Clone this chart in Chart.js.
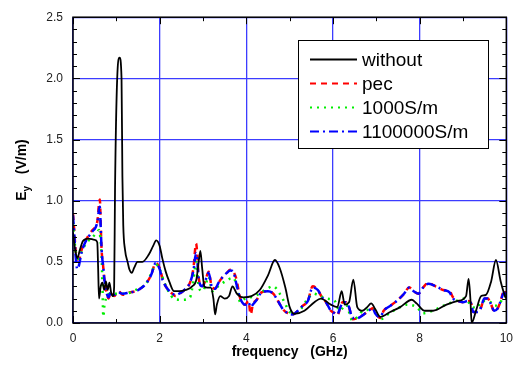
<!DOCTYPE html>
<html>
<head>
<meta charset="utf-8">
<script src="https://cdn.jsdelivr.net/npm/chart.js@4.4.0/dist/chart.umd.min.js"></script>
<style>
html,body{margin:0;padding:0;background:#fff;}
</style>
</head>
<body>
<canvas id="c" width="521" height="371"></canvas>
<script>
// values (frequency in GHz, Ey in V/m)
const legendNames = ['without', 'pec', '1000S/m', '1100000S/m'];
const xTicks = [0, 2, 4, 6, 8, 10];
const yTicks = [0.0, 0.5, 1.0, 1.5, 2.0, 2.5];

const fWithout = [0, 0.05, 0.1, 0.16, 0.23, 0.35, 0.5, 0.56, 0.58, 0.6, 0.64, 0.68, 0.72, 0.76, 0.8, 0.84, 0.88, 0.92, 0.95, 0.97, 1.02, 1.075, 1.12, 1.14, 1.16, 1.2, 1.26, 1.3, 1.36, 1.41, 1.49, 1.6, 1.75, 1.85, 1.92, 2.0, 2.06, 2.14, 2.22, 2.33, 2.45, 2.6, 2.75, 2.85, 2.9, 2.94, 2.98, 3.03, 3.1, 3.18, 3.24, 3.28, 3.32, 3.4, 3.5, 3.6, 3.68, 3.78, 3.93, 4.12, 4.31, 4.5, 4.66, 4.77, 4.9, 5.0, 5.11, 5.34, 5.57, 5.72, 5.95, 6.1, 6.2, 6.27, 6.37, 6.47, 6.56, 6.68, 6.79, 6.88, 6.98, 7.09, 7.32, 7.55, 7.82, 7.93, 8.12, 8.31, 8.62, 8.88, 9.07, 9.13, 9.17, 9.2, 9.3, 9.42, 9.53, 9.65, 9.76, 9.87, 9.97, 10];
const eWithout = [0.74, 0.6, 0.53, 0.6, 0.67, 0.69, 0.68, 0.66, 0.45, 0.2, 0.3, 0.33, 0.27, 0.34, 0.27, 0.33, 0.25, 0.22, 0.3, 1.1, 2.0, 2.17, 2.0, 1.2, 0.8, 0.6, 0.5, 0.44, 0.41, 0.45, 0.5, 0.5, 0.56, 0.63, 0.675, 0.63, 0.53, 0.42, 0.34, 0.26, 0.26, 0.27, 0.3, 0.36, 0.5, 0.59, 0.45, 0.3, 0.29, 0.29, 0.2, 0.07, 0.15, 0.22, 0.2, 0.22, 0.3, 0.24, 0.21, 0.22, 0.27, 0.39, 0.515, 0.45, 0.29, 0.13, 0.075, 0.1, 0.17, 0.2, 0.15, 0.13, 0.26, 0.15, 0.17, 0.355, 0.13, 0.1, 0.13, 0.16, 0.11, 0.05, 0.09, 0.13, 0.19, 0.16, 0.1, 0.1, 0.15, 0.18, 0.22, 0.36, 0.2, 0.0, 0.1, 0.22, 0.23, 0.34, 0.515, 0.34, 0.22, 0.2];

const fPec = [0, 0.03, 0.06, 0.1, 0.15, 0.2, 0.27, 0.35, 0.45, 0.52, 0.57, 0.6, 0.62, 0.64, 0.66, 0.7, 0.72, 0.75, 0.78, 0.82, 0.87, 0.95, 1.05, 1.15, 1.3, 1.45, 1.55, 1.68, 1.8, 1.91, 2.0, 2.06, 2.14, 2.26, 2.37, 2.5, 2.6, 2.7, 2.78, 2.84, 2.87, 2.9, 2.98, 3.05, 3.13, 3.2, 3.28, 3.36, 3.44, 3.55, 3.63, 3.7, 3.77, 3.86, 3.97, 4.05, 4.1, 4.15, 4.24, 4.35, 4.5, 4.62, 4.73, 4.85, 4.96, 5.07, 5.19, 5.3, 5.42, 5.53, 5.65, 5.73, 5.84, 5.95, 6.04, 6.1, 6.17, 6.22, 6.3, 6.37, 6.45, 6.56, 6.71, 6.86, 6.92, 6.97, 7.02, 7.09, 7.17, 7.32, 7.47, 7.63, 7.76, 7.86, 7.97, 8.08, 8.2, 8.31, 8.43, 8.54, 8.69, 8.77, 8.88, 9.0, 9.11, 9.2, 9.23, 9.34, 9.42, 9.49, 9.57, 9.65, 9.72, 9.8, 9.87, 9.95, 10];
const ePec = [0.89, 0.75, 0.6, 0.52, 0.53, 0.6, 0.66, 0.71, 0.76, 0.79, 0.85, 0.98, 1.01, 0.8, 0.6, 0.45, 0.37, 0.3, 0.24, 0.2, 0.25, 0.22, 0.26, 0.23, 0.25, 0.26, 0.28, 0.32, 0.39, 0.49, 0.45, 0.37, 0.3, 0.25, 0.22, 0.25, 0.28, 0.33, 0.45, 0.65, 0.55, 0.37, 0.3, 0.34, 0.42, 0.3, 0.28, 0.33, 0.37, 0.41, 0.435, 0.42, 0.36, 0.2, 0.15, 0.18, 0.07, 0.15, 0.19, 0.25, 0.26, 0.24, 0.18, 0.11, 0.08, 0.07, 0.1, 0.14, 0.18, 0.3, 0.27, 0.22, 0.17, 0.1, 0.08, 0.06, 0.13, 0.17, 0.17, 0.13, 0.03, 0.04, 0.07, 0.11, 0.12, 0.08, 0.06, 0.04, 0.1, 0.14, 0.18, 0.235, 0.29, 0.26, 0.24, 0.29, 0.33, 0.31, 0.29, 0.27, 0.26, 0.21, 0.18, 0.17, 0.18, 0.15, 0.09, 0.09, 0.13, 0.2, 0.2, 0.15, 0.095, 0.12, 0.18, 0.27, 0.22];

const f1000 = [0, 0.05, 0.1, 0.2, 0.3, 0.45, 0.55, 0.6, 0.63, 0.66, 0.68, 0.7, 0.72, 0.76, 0.85, 1.0, 1.2, 1.45, 1.68, 1.8, 1.91, 2.0, 2.1, 2.2, 2.33, 2.52, 2.7, 2.78, 2.84, 2.9, 2.98, 3.05, 3.13, 3.21, 3.35, 3.51, 3.7, 3.78, 3.86, 3.97, 4.2, 4.43, 4.62, 4.77, 4.88, 5.0, 5.1, 5.27, 5.42, 5.55, 5.7, 5.85, 6.04, 6.15, 6.3, 6.45, 6.7, 6.97, 7.09, 7.3, 7.55, 7.7, 7.93, 8.08, 8.3, 8.54, 8.84, 9.05, 9.15, 9.3, 9.45, 9.6, 9.72, 9.85, 9.95, 10];
const e1000 = [0.82, 0.62, 0.5, 0.58, 0.65, 0.7, 0.74, 0.76, 0.7, 0.55, 0.3, 0.05, 0.13, 0.2, 0.24, 0.24, 0.24, 0.27, 0.32, 0.4, 0.48, 0.44, 0.34, 0.26, 0.2, 0.19, 0.21, 0.35, 0.5, 0.3, 0.26, 0.3, 0.38, 0.26, 0.3, 0.34, 0.37, 0.3, 0.17, 0.2, 0.22, 0.27, 0.3, 0.24, 0.17, 0.09, 0.08, 0.12, 0.2, 0.24, 0.22, 0.2, 0.18, 0.1, 0.15, 0.02, 0.1, 0.11, 0.03, 0.08, 0.13, 0.15, 0.13, 0.08, 0.1, 0.14, 0.18, 0.2, 0.16, 0.12, 0.18, 0.18, 0.14, 0.16, 0.22, 0.22];

const f1100000 = [0, 0.03, 0.06, 0.1, 0.13, 0.2, 0.27, 0.35, 0.45, 0.52, 0.57, 0.6, 0.62, 0.64, 0.66, 0.7, 0.72, 0.75, 0.78, 0.82, 0.87, 0.95, 1.05, 1.15, 1.3, 1.45, 1.55, 1.68, 1.8, 1.91, 2.0, 2.06, 2.14, 2.26, 2.37, 2.5, 2.6, 2.7, 2.78, 2.84, 2.87, 2.9, 2.98, 3.05, 3.13, 3.2, 3.28, 3.36, 3.44, 3.55, 3.63, 3.7, 3.77, 3.86, 3.97, 4.05, 4.1, 4.15, 4.24, 4.35, 4.5, 4.62, 4.73, 4.85, 4.96, 5.07, 5.19, 5.3, 5.42, 5.53, 5.65, 5.73, 5.84, 5.95, 6.04, 6.1, 6.17, 6.22, 6.3, 6.37, 6.45, 6.56, 6.71, 6.86, 6.92, 6.97, 7.02, 7.09, 7.17, 7.32, 7.47, 7.63, 7.76, 7.86, 7.97, 8.08, 8.2, 8.31, 8.43, 8.54, 8.69, 8.77, 8.88, 9.0, 9.11, 9.2, 9.23, 9.34, 9.42, 9.49, 9.57, 9.65, 9.72, 9.8, 9.87, 9.95, 10];
const e1100000 = [0.88, 0.72, 0.55, 0.44, 0.46, 0.58, 0.65, 0.7, 0.75, 0.78, 0.84, 0.93, 0.95, 0.78, 0.6, 0.45, 0.37, 0.3, 0.24, 0.21, 0.25, 0.23, 0.25, 0.24, 0.25, 0.26, 0.28, 0.32, 0.39, 0.49, 0.44, 0.36, 0.3, 0.25, 0.23, 0.25, 0.28, 0.33, 0.43, 0.57, 0.5, 0.36, 0.3, 0.34, 0.41, 0.3, 0.28, 0.33, 0.37, 0.41, 0.43, 0.42, 0.32, 0.2, 0.15, 0.17, 0.13, 0.15, 0.19, 0.25, 0.26, 0.24, 0.18, 0.11, 0.08, 0.07, 0.1, 0.14, 0.18, 0.29, 0.27, 0.22, 0.17, 0.1, 0.08, 0.07, 0.13, 0.16, 0.17, 0.13, 0.04, 0.04, 0.07, 0.11, 0.12, 0.08, 0.06, 0.05, 0.1, 0.14, 0.18, 0.235, 0.29, 0.26, 0.24, 0.29, 0.32, 0.31, 0.29, 0.27, 0.25, 0.2, 0.18, 0.17, 0.18, 0.15, 0.09, 0.09, 0.13, 0.2, 0.2, 0.15, 0.1, 0.12, 0.18, 0.25, 0.22];

const toPoints = (xs, ys) => xs.map((v, i) => ({x: v, y: ys[i]}));

const FONT = '"Liberation Sans", Arial, sans-serif';
const styles = [
  {color: '#000000', width: 1.8, dash: []},
  {color: '#ff0000', width: 2.5, dash: [6, 5]},
  {color: '#00ee00', width: 2.5, dash: [2, 5]},
  {color: '#0000ff', width: 2.5, dash: [9, 4, 2, 4]}
];

// inward ticks, frame, legend box and axis titles
const frameTicks = {
  id: 'frameTicks',
  afterDatasetsDraw(chart) {
    const {ctx, chartArea: a, scales: {x, y}} = chart;
    ctx.save();
    ctx.strokeStyle = '#000';
    ctx.lineWidth = 1;
    ctx.beginPath();
    for (let v = 0; v <= 10; v++) {
      const px = Math.round(x.getPixelForValue(v)) + 0.5;
      const len = v % 2 === 0 ? 7 : 4;
      ctx.moveTo(px, a.bottom); ctx.lineTo(px, a.bottom - len);
      ctx.moveTo(px, a.top); ctx.lineTo(px, a.top + len);
    }
    for (let i = 0; i <= 25; i++) {
      const py = Math.round(y.getPixelForValue(i / 10)) + 0.5;
      const len = i % 5 === 0 ? 7 : 4;
      ctx.moveTo(a.left, py); ctx.lineTo(a.left + len, py);
      ctx.moveTo(a.right, py); ctx.lineTo(a.right - len, py);
    }
    ctx.stroke();
    ctx.lineWidth = 1.5;
    ctx.strokeRect(a.left, a.top, a.right - a.left, a.bottom - a.top);
    ctx.restore();
  },
  afterDraw(chart) {
    const {ctx, chartArea: a} = chart;
    ctx.save();
    const bx = 298, by = 40, bw = 190, bh = 108;
    ctx.fillStyle = '#fff';
    ctx.fillRect(bx, by, bw, bh);
    ctx.strokeStyle = '#000';
    ctx.lineWidth = 1;
    ctx.strokeRect(bx + 0.5, by + 0.5, bw, bh);
    ctx.font = '19px ' + FONT;
    ctx.textBaseline = 'middle';
    legendNames.forEach((name, i) => {
      const ly = 59.5 + i * 24;
      const s = styles[i];
      ctx.strokeStyle = s.color;
      ctx.lineWidth = 2;
      ctx.setLineDash(s.dash);
      ctx.beginPath();
      ctx.moveTo(310, ly); ctx.lineTo(357, ly);
      ctx.stroke();
      ctx.setLineDash([]);
      ctx.fillStyle = '#000';
      ctx.fillText(name, 362, ly + 1);
    });
    ctx.fillStyle = '#000';
    ctx.font = 'bold 14px ' + FONT;
    ctx.textAlign = 'center';
    ctx.textBaseline = 'middle';
    ctx.fillText('frequency   (GHz)', (a.left + a.right) / 2, 352);
    ctx.translate(22, 170);
    ctx.rotate(-Math.PI / 2);
    ctx.textAlign = 'left';
    const t1 = 'E', t2 = 'y', t3 = '   (V/m)';
    ctx.font = 'bold 14px ' + FONT;
    const w1 = ctx.measureText(t1).width;
    const w3 = ctx.measureText(t3).width;
    ctx.font = 'bold 10px ' + FONT;
    const w2 = ctx.measureText(t2).width;
    let sx = -(w1 + w2 + w3) / 2;
    ctx.font = 'bold 14px ' + FONT;
    ctx.fillText(t1, sx, 0);
    sx += w1;
    ctx.font = 'bold 10px ' + FONT;
    ctx.fillText(t2, sx, 5);
    sx += w2;
    ctx.font = 'bold 14px ' + FONT;
    ctx.fillText(t3, sx, 0);
    ctx.restore();
  }
};

const series = [
  toPoints(fWithout, eWithout),
  toPoints(fPec, ePec),
  toPoints(f1000, e1000),
  toPoints(f1100000, e1100000)
];

new Chart(document.getElementById('c'), {
  type: 'scatter',
  data: {
    datasets: series.map((pts, i) => ({
      label: legendNames[i],
      data: pts,
      showLine: true,
      borderColor: styles[i].color,
      borderWidth: styles[i].width,
      borderDash: styles[i].dash,
      pointRadius: 0,
      cubicInterpolationMode: 'monotone',
      order: i === 0 ? 0 : 4 - i
    }))
  },
  options: {
    responsive: false,
    animation: false,
    layout: {padding: {top: 12, right: 10, left: 0, bottom: 0}},
    plugins: {legend: {display: false}, tooltip: {enabled: false}},
    scales: {
      x: {
        type: 'linear',
        min: 0, max: 10,
        afterBuildTicks: s => { s.ticks = xTicks.map(v => ({value: v})); },
        afterFit: s => { s.height = 48; },
        grid: {color: '#3c3cff', lineWidth: 1.3, drawTicks: false},
        border: {display: false},
        ticks: {padding: 8, color: '#222', font: {family: FONT, size: 12}, maxRotation: 0}
      },
      y: {
        min: 0, max: 2.5,
        afterBuildTicks: s => { s.ticks = yTicks.map(v => ({value: v})); },
        afterFit: s => { s.width = 73; },
        grid: {color: '#3c3cff', lineWidth: 1.3, drawTicks: false},
        border: {display: false},
        ticks: {padding: 10, color: '#222', font: {family: FONT, size: 12}, callback: v => v.toFixed(1)}
      }
    }
  },
  plugins: [frameTicks]
});
</script>
</body>
</html>
